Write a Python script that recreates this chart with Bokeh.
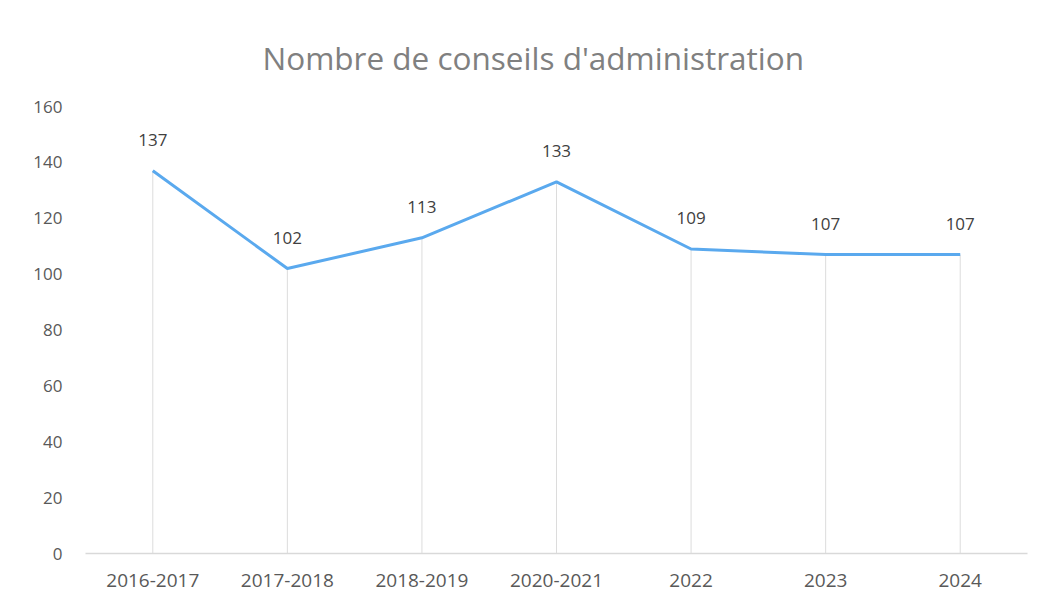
from bokeh.plotting import figure
from bokeh.models import ColumnDataSource, LabelSet, FixedTicker, Range1d, Title
from bokeh.core.properties import value
from bokeh.embed import file_html
from bokeh.resources import INLINE

categories = ["2016-2017", "2017-2018", "2018-2019", "2020-2021", "2022", "2023", "2024"]
values = [137, 102, 113, 133, 109, 107, 107]
y_ticks = [0, 20, 40, 60, 80, 100, 120, 140, 160]
title_text = "Nombre de conseils d'administration"

FONT = "Open Sans"

src = ColumnDataSource(dict(cat=categories, val=values, zero=[0] * len(values),
                            lab=[str(v) for v in values]))

p = figure(x_range=categories, y_range=Range1d(0, 160), width=1035, height=593,
           output_backend="svg", toolbar_location=None,
           min_border_left=85, min_border_right=8, min_border_top=106, min_border_bottom=40)
p.outline_line_color = None
p.background_fill_color = "white"
p.border_fill_color = "white"

t = Title(text=title_text, align="left", text_font=FONT, text_font_size="31.5px",
          text_color="#808080", text_font_style="normal", standoff=56, offset=177)
p.add_layout(t, "above")

p.segment(x0="cat", y0="zero", x1="cat", y1="val", source=src,
          line_color="#dcdcdc", line_width=1)
p.line(x="cat", y="val", source=src, line_color="#5aa9ee", line_width=3)

labels = LabelSet(x="cat", y="val", text="lab", source=src, text_align="center",
                  text_baseline="bottom", y_offset=25, text_font=value(FONT),
                  text_font_size="17px", text_color="#404040")
p.add_layout(labels)

p.xgrid.grid_line_color = None
p.ygrid.grid_line_color = None

p.yaxis.ticker = FixedTicker(ticks=y_ticks)
p.yaxis.axis_line_color = None
p.yaxis.major_tick_line_color = None
p.yaxis.minor_tick_line_color = None
p.yaxis.major_label_text_font = FONT
p.yaxis.major_label_text_font_size = "17px"
p.yaxis.major_label_text_color = "#595959"
p.yaxis.major_label_standoff = 17

p.xaxis.axis_line_color = "#d9d9d9"
p.xaxis.axis_line_width = 1.5
p.xaxis.major_tick_line_color = None
p.xaxis.minor_tick_line_color = None
p.xaxis.major_label_text_font = FONT
p.xaxis.major_label_text_font_size = "19px"
p.xaxis.major_label_text_color = "#595959"
p.xaxis.major_label_standoff = 14

open("out.html", "w").write(file_html(p, INLINE))
